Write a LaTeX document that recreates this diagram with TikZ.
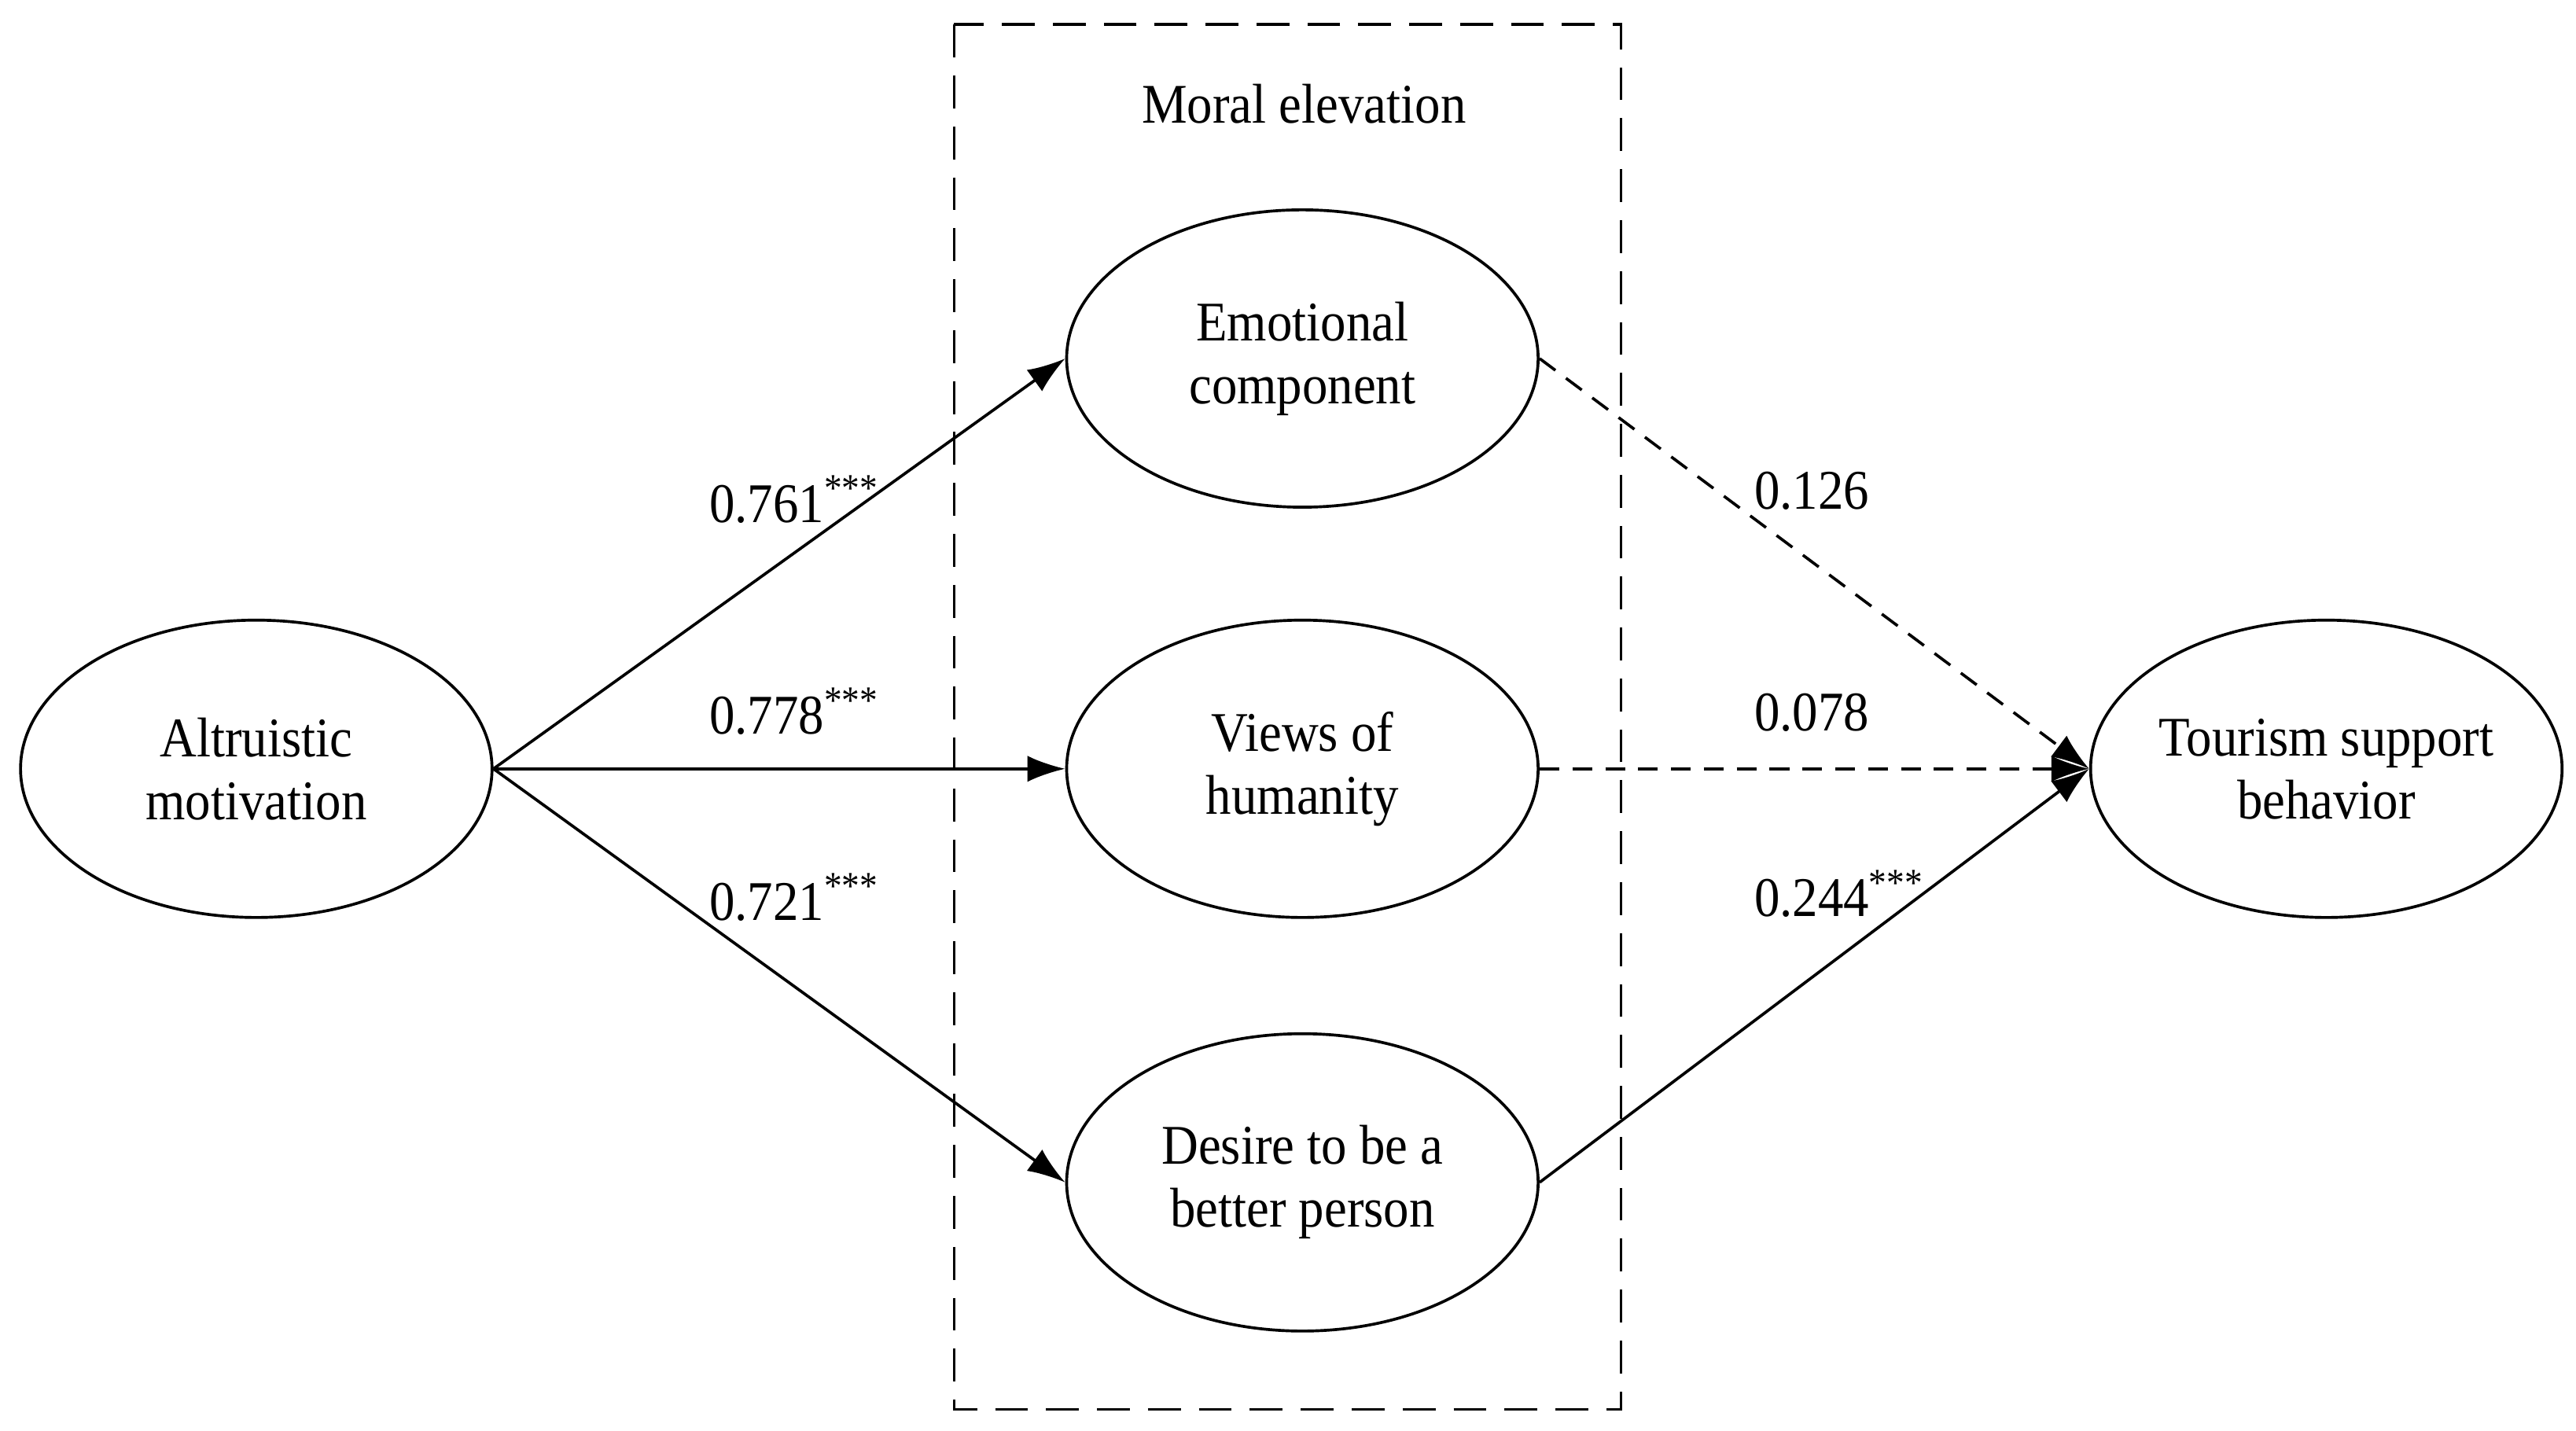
\documentclass[tikz,border=0pt]{standalone}
\usepackage{fontspec}
\setmainfont{Liberation Serif}[FakeStretch=0.91]
\usetikzlibrary{positioning,arrows.meta,calc,shapes.geometric}
\newcommand{\sig}{\textsuperscript{***}}

\begin{document}
\begin{tikzpicture}[>={Latex[length=2.3mm,width=1.6mm]},line width=0.5pt,
 construct/.style={draw,ellipse,minimum width=2.87cm,minimum height=1.81cm,inner sep=-4pt,align=center,font=\fontsize{9.7}{10.9}\selectfont},
 coef/.style={anchor=base west,inner sep=0pt,font=\fontsize{9.7}{10.9}\selectfont},
 nonsig/.style={->,dash pattern=on 1.2mm off 0.8mm},
 frame/.style={dash pattern=on 2mm off 1.1mm}]
\useasboundingbox (0,0) rectangle (15.68,8.71);
\node[construct] (alt) at (1.56,4.03) {Altruistic\\motivation};
\node[construct,right=3.48cm of alt] (hum) {Views of\\humanity};
\node[construct,above=0.67cm of hum] (emo) {Emotional\\component};
\node[construct,below=0.69cm of hum] (des) {Desire to be a\\better person};
\node[construct,right=3.345cm of hum] (tsb) {Tourism support\\behavior};
% moral elevation block
\draw[frame] ($(hum)+(-2.12,4.53)$) rectangle ($(hum)+(1.94,-3.90)$);
\node[anchor=base,inner sep=0pt,font=\fontsize{9.7}{10.9}\selectfont] (me) at ($(hum)+(0.01,3.93)$) {Moral elevation};
% paths
\draw[->] (alt.east) -- (emo.west);
\draw[->] (alt.east) -- (hum.west);
\draw[->] (alt.east) -- (des.west);
\draw[nonsig] (emo.east) -- (tsb.west);
\draw[nonsig] (hum.east) -- (tsb.west);
\draw[->] (des.east) -- (tsb.west);
\node[coef] (c1) at (4.31,5.53) {0.761\sig};
\node[coef] (c2) at (4.31,4.24) {0.778\sig};
\node[coef] (c3) at (4.31,3.11) {0.721\sig};
\node[coef] (c4) at (10.67,5.61) {0.126};
\node[coef] (c5) at (10.67,4.26) {0.078};
\node[coef] (c6) at (10.67,3.13) {0.244\sig};
\end{tikzpicture}
\end{document}
